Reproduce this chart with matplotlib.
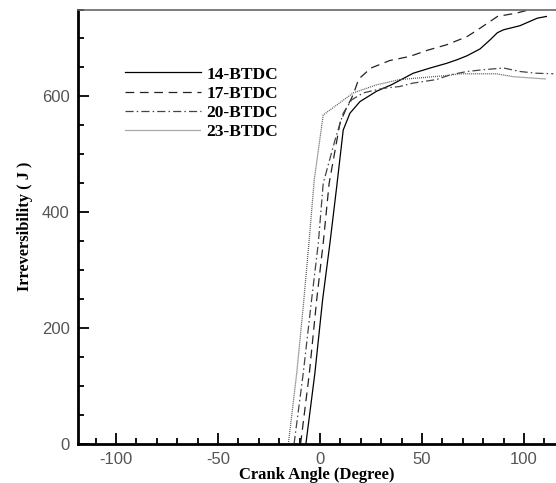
import matplotlib
matplotlib.use('Agg')
import matplotlib.pyplot as plt
from matplotlib.ticker import MultipleLocator

plt.rcParams['axes.unicode_minus'] = False

# 14-BTDC (solid)
x14 = [-6.9, -2.5, 1.3, 4.9, 8.2, 11.4, 14.7, 19.6, 27.8, 35, 45.7, 54, 62, 67, 72, 78.5, 83.5, 87, 90, 98, 106.5, 111]
y14 = [0, 122, 249, 347, 444, 542, 571, 591, 609, 620, 640, 649, 657, 663, 670, 682, 698, 710, 715, 722, 735, 738]

# 17-BTDC (dashed)
x17 = [-9.5, -5.2, -1.6, 1.6, 4.5, 9.8, 13, 15.5, 17, 19, 25, 34.3, 44, 53, 62, 72, 78.6, 87, 96.6, 103, 110, 116]
y17 = [0, 122, 249, 347, 450, 554, 580, 597, 610, 630, 649, 662, 669, 680, 689, 703, 718, 738, 744, 750, 755, 758]

# 20-BTDC (dash-dot)
x20 = [-12.7, -8.2, -4.1, -0.8, 1.6, 7.4, 11.4, 15.5, 21.2, 31, 39, 45.7, 57, 63.7, 72, 80, 90, 98, 106, 114.4]
y20 = [0, 122, 249, 347, 450, 525, 571, 594, 606, 614, 617, 623, 629, 637, 643, 646, 649, 643, 640, 639]

# 23-BTDC (dotted)
x23 = [-15.5, -11.4, -8.2, -5.4, -2.8, 1.6, 16.3, 27.8, 39, 45.7, 62, 68.6, 86.6, 94.8, 111]
y23 = [0, 122, 237, 347, 456, 568, 606, 620, 629, 631, 636, 639, 639, 634, 630]

labels = ['14-BTDC', '17-BTDC', '20-BTDC', '23-BTDC']

fig = plt.figure(figsize=(5.56, 4.83), dpi=100)
ax = fig.add_axes([78 / 556, 39 / 483, 478 / 556, 434.5 / 483])

ax.plot(x14, y14, color='black', lw=0.9, ls='-', label=labels[0])
ax.plot(x17, y17, color='#222222', lw=0.9, ls=(0, (7, 4.5)), label=labels[1])
ax.plot(x20, y20, color='#444444', lw=0.9, ls=(0, (6.5, 2.5, 1.2, 2.5)), label=labels[2])
ax.plot(x23, y23, color='#555555', lw=0.9, ls=(0, (0.8, 0.8)), label=labels[3])

ax.set_xlim(-118.6, 115.7)
ax.set_ylim(0, 750)

ax.xaxis.set_major_locator(MultipleLocator(50))
ax.xaxis.set_minor_locator(MultipleLocator(10))
ax.yaxis.set_major_locator(MultipleLocator(200))
ax.yaxis.set_minor_locator(MultipleLocator(50))

ax.tick_params(which='both', direction='in', top=False, right=False, width=1.3,
               labelsize=12, labelcolor='#555555', labelfontfamily='Liberation Sans')
ax.tick_params(which='major', length=8, pad=6)
ax.tick_params(which='minor', length=4)

ax.spines['right'].set_visible(False)
ax.spines['left'].set_linewidth(2)
ax.spines['bottom'].set_linewidth(2)
ax.spines['top'].set_linewidth(1.2)
ax.spines['top'].set_color('#666666')

ax.set_xlabel('Crank Angle (Degree)', family='Liberation Serif', fontweight='bold',
              fontsize=12, labelpad=0)
ax.set_ylabel('Irreversibility ( J )', family='Liberation Serif', fontweight='bold',
              fontsize=11.8, labelpad=6)

leg = ax.legend(loc='upper left', bbox_to_anchor=(0.065, 0.905), frameon=False,
                handlelength=4.4, handletextpad=0.3, labelspacing=0.18,
                prop={'family': 'Liberation Serif', 'weight': 'bold', 'size': 12.5})

fig.savefig('out.png', dpi=100)
